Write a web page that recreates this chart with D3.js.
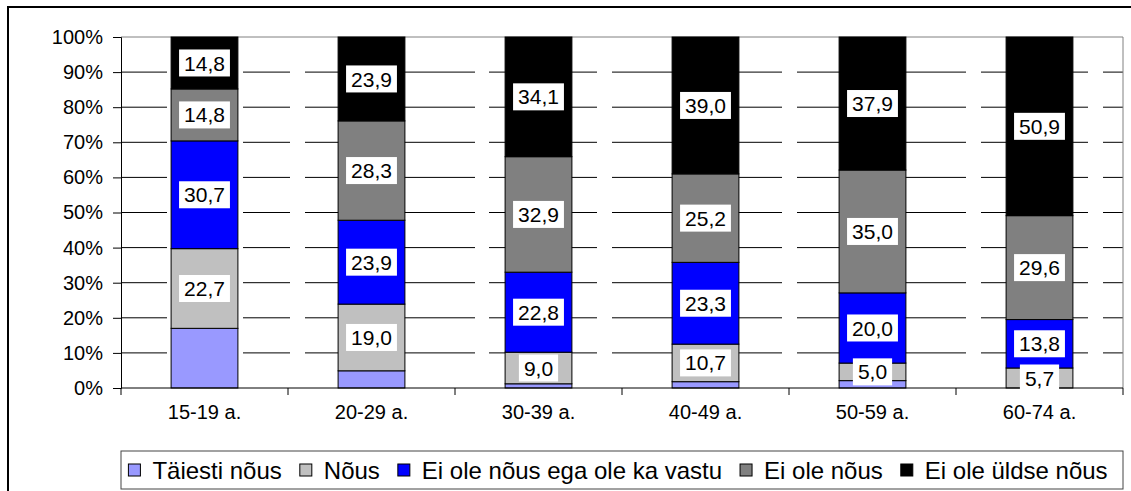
<!DOCTYPE html>
<html>
<head>
<meta charset="utf-8">
<script src="https://cdn.jsdelivr.net/npm/d3@7"></script>
<style>
  body { margin: 0; background: #fff; }
  text { font-family: Arial, "Liberation Sans", sans-serif; fill: #000; }
</style>
</head>
<body>
<div id="chart"></div>
<script>
// vanuserühmad
const categories = ["15-19 a.", "20-29 a.", "30-39 a.", "40-49 a.", "50-59 a.", "60-74 a."];
const seriesNames = ["Täiesti nõus", "Nõus", "Ei ole nõus ega ole ka vastu", "Ei ole nõus", "Ei ole üldse nõus"];
// väärtused protsentides (Täiesti nõus pildil ilma sildita, hinnatud)
const taiestiNous = [17.0, 4.9, 1.2, 1.8, 2.1, 0.0];
const nous = [22.7, 19.0, 9.0, 10.7, 5.0, 5.7];
const eiEgaVastu = [30.7, 23.9, 22.8, 23.3, 20.0, 13.8];
const eiOleNous = [14.8, 28.3, 32.9, 25.2, 35.0, 29.6];
const eiOleUldse = [14.8, 23.9, 34.1, 39.0, 37.9, 50.9];
const yTicks = [0, 10, 20, 30, 40, 50, 60, 70, 80, 90, 100];

const colors = ["#9999ff", "#c0c0c0", "#0000ff", "#808080", "#000000"];
const seriesValues = [taiestiNous, nous, eiEgaVastu, eiOleNous, eiOleUldse];

// tabel d3.stack jaoks
const table = categories.map((c, i) => {
  const row = { category: c };
  seriesNames.forEach((s, j) => row[s] = seriesValues[j][i]);
  return row;
});

const W = 1131, H = 491;
const svg = d3.select("#chart").append("svg")
  .attr("width", W).attr("height", H);

// välimine raam
svg.append("rect")
  .attr("x", 8).attr("y", 7).attr("width", 1200).attr("height", 600)
  .attr("fill", "none").attr("stroke", "#000").attr("stroke-width", 2);

const plotLeft = 121, plotRight = 1123, plotTop = 37, plotBottom = 388;

const xScale = d3.scaleBand()
  .domain(categories)
  .range([plotLeft, plotRight])
  .paddingInner(0.6)
  .paddingOuter(0.3);

const yScale = d3.scaleLinear()
  .domain([0, 100])
  .range([plotBottom, plotTop]);

// ruudustik (katkendlik nagu originaalis)
svg.append("g")
  .selectAll("line")
  .data(yTicks.filter(t => t > 0 && t < 100))
  .join("line")
  .attr("x1", plotLeft).attr("x2", plotRight)
  .attr("y1", d => yScale(d)).attr("y2", d => yScale(d))
  .attr("stroke", "#000")
  .attr("stroke-dasharray", "46,15,46,15,47,15,170,14,108,15,170,15,47,15,107,15,107,15,20");

// joonise ala ülemine ja parem serv
svg.append("path")
  .attr("d", `M${plotLeft},${yScale(100)}H${plotRight}V${plotBottom}`)
  .attr("fill", "none").attr("stroke", "#808080");

const stacked = d3.stack().keys(seriesNames)(table);

svg.append("g")
  .selectAll("g")
  .data(stacked)
  .join("g")
  .attr("fill", (d, i) => colors[i])
  .selectAll("rect")
  .data(d => d)
  .join("rect")
  .attr("x", d => xScale(d.data.category))
  .attr("y", d => yScale(d[1]))
  .attr("width", xScale.bandwidth())
  .attr("height", d => yScale(d[0]) - yScale(d[1]))
  .attr("stroke", "#000")
  .attr("stroke-width", 1);

// y-telg
svg.append("g")
  .attr("transform", `translate(${plotLeft},0)`)
  .call(d3.axisLeft(yScale).tickValues(yTicks).tickFormat(d => d + "%").tickSize(8).tickPadding(10))
  .call(g => g.selectAll("text").style("font-size", "20px"))
  .call(g => g.select(".domain").attr("stroke", "#000"));

// x-telg
const xAxis = svg.append("g")
  .attr("transform", `translate(0,${plotBottom})`)
  .call(d3.axisBottom(xScale).tickSize(0).tickPadding(17))
  .call(g => g.selectAll("text").style("font-size", "20px"));
xAxis.select(".domain").attr("d", `M${plotLeft},0H${plotRight}`).attr("stroke", "#000");
xAxis.selectAll(".bound")
  .data(d3.range(categories.length + 1))
  .join("line")
  .attr("class", "bound")
  .attr("x1", i => plotLeft + i * xScale.step())
  .attr("x2", i => plotLeft + i * xScale.step())
  .attr("y1", 0).attr("y2", 7)
  .attr("stroke", "#000");

// andmesildid (välja arvatud Täiesti nõus)
const labels = svg.append("g");
stacked.forEach((s, si) => {
  if (si === 0) return;
  s.forEach(d => {
    const cx = xScale(d.data.category) + xScale.bandwidth() / 2;
    const cy = yScale((d[0] + d[1]) / 2);
    const g = labels.append("g");
    const t = g.append("text")
      .attr("x", cx).attr("y", cy)
      .attr("text-anchor", "middle")
      .attr("dy", "0.36em")
      .style("font-size", "21px")
      .text(d3.format(".1f")(d.data[s.key]).replace(".", ","));
    const bb = t.node().getBBox();
    g.insert("rect", "text")
      .attr("x", bb.x - 5).attr("y", cy - 13.5)
      .attr("width", bb.width + 10).attr("height", 27)
      .attr("fill", "#fff");
  });
});

// legend
svg.append("rect")
  .attr("x", plotLeft).attr("y", 451).attr("width", plotRight - plotLeft).attr("height", 38)
  .attr("fill", "#fff").attr("stroke", "#444");
const legend = svg.append("g");
let lx = 0;
seriesNames.forEach((name, i) => {
  const item = legend.append("g").attr("transform", `translate(${lx},0)`);
  item.append("rect")
    .attr("x", 0).attr("y", -6).attr("width", 12).attr("height", 12)
    .attr("fill", colors[i]).attr("stroke", "#000");
  const t = item.append("text")
    .attr("x", 24).attr("dy", "0.36em")
    .style("font-size", "24px")
    .text(name);
  lx += 24 + t.node().getComputedTextLength() + 18;
});
lx -= 18;
legend.attr("transform", `translate(${plotLeft + (plotRight - plotLeft - lx) / 2 - 4},470)`);
</script>
</body>
</html>
